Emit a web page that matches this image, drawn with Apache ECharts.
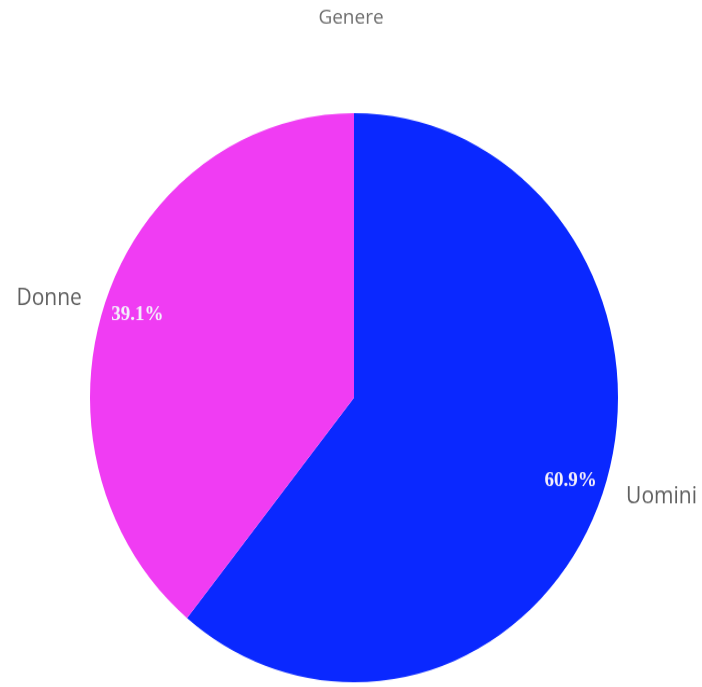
<!DOCTYPE html>
<html>
<head>
<meta charset="utf-8">
<script src="https://cdn.jsdelivr.net/npm/echarts@6/dist/echarts.min.js"></script>
<style>
  html, body { margin: 0; padding: 0; background: #ffffff; overflow: hidden; }
  #wrap { width: 702px; height: 687px; overflow: hidden; }
  /* the pie is drawn slightly taller than wide */
  #chart { width: 702px; height: 638px; transform: scaleY(1.0777); transform-origin: 0 0; }
</style>
</head>
<body>
<div id="wrap"><div id="chart"></div></div>
<script>
// Gender split, in percent
const categories = ['Uomini', 'Donne'];
const values = [60.9, 39.1];
const colors = ['#0A28FF', '#F03CF3'];
const titleText = 'Genere';

const pieData = categories.map((name, i) => ({
  name: name,
  value: values[i],
  itemStyle: { color: colors[i] }
}));

const chart = echarts.init(document.getElementById('chart'), null, { renderer: 'canvas' });

chart.setOption({
  animation: false,
  backgroundColor: '#ffffff',
  title: {
    text: titleText,
    left: 'center',
    top: 2,
    textStyle: {
      fontFamily: 'Open Sans',
      fontSize: 19,
      fontWeight: 'normal',
      color: '#707070'
    }
  },
  series: [
    {
      // slices with category names outside
      type: 'pie',
      center: [354, 369],
      radius: [0, 264],
      startAngle: 90,
      clockwise: true,
      avoidLabelOverlap: false,
      itemStyle: { borderWidth: 0 },
      label: {
        show: true,
        position: 'outside',
        formatter: '{b}',
        fontFamily: 'Open Sans',
        fontSize: 21,
        color: '#606060'
      },
      labelLine: { show: false, length: 10, length2: 9 },
      emphasis: { disabled: true },
      data: pieData
    },
    {
      // percentage labels near the rim
      type: 'pie',
      center: [354, 369],
      radius: [190, 264],
      startAngle: 90,
      clockwise: true,
      silent: true,
      percentPrecision: 1,
      itemStyle: { color: 'rgba(0,0,0,0)', borderWidth: 0 },
      label: {
        show: true,
        position: 'inside',
        formatter: '{d}%',
        fontFamily: 'Liberation Serif',
        fontWeight: 'bold',
        fontSize: 19,
        color: '#f4eefc'
      },
      labelLine: { show: false },
      emphasis: { disabled: true },
      data: categories.map((name, i) => ({ name: name, value: values[i] }))
    }
  ]
});
</script>
</body>
</html>
